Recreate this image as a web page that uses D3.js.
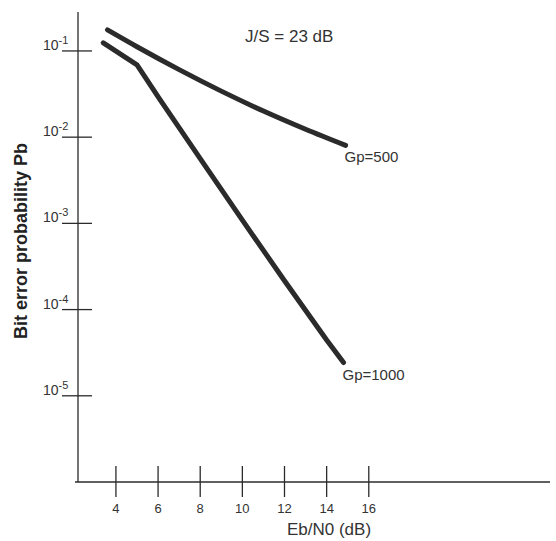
<!DOCTYPE html>
<html>
<head>
<meta charset="utf-8">
<script src="https://cdn.jsdelivr.net/npm/d3@7"></script>
<style>
  html, body { margin: 0; padding: 0; background: #fff; }
  svg { display: block; font-family: "Liberation Sans", Arial, sans-serif; }
</style>
</head>
<body>
<svg id="chart" width="556" height="541"></svg>
<script>
// ---- data ----
const xTicks = [4, 6, 8, 10, 12, 14, 16];
const yTickExps = [-1, -2, -3, -4, -5];
const gp500X = [3.6, 5, 7, 9, 11, 13, 14.9];
const gp500Y = [0.1754, 0.1119, 0.0607, 0.0342, 0.0201, 0.01236, 0.00804];
const gp1000X = [3.4, 5.0, 6.1, 8, 10, 12, 14, 14.8];
const gp1000Y = [0.124, 0.0689, 0.0271, 5.64e-3, 1.09e-3, 2.16e-4, 4.43e-5, 2.43e-5];
const seriesLabels = ["Gp=500", "Gp=1000"];
const annotation = "J/S = 23 dB";
const xTitle = "Eb/N0 (dB)";
const yTitle = "Bit error probability Pb";

// ---- layout ----
const svg = d3.select("#chart");
const ink = "#2b2b2b";
const x = d3.scaleLinear().domain([2.2, 24.6]).range([78, 550]);
const y = d3.scaleLog().domain([1e-6, 0.283]).range([482, 12]);

// axes lines
svg.append("line").attr("x1", x(2.2)).attr("x2", x(2.2)).attr("y1", y(0.283)).attr("y2", y(1e-6))
  .attr("stroke", ink).attr("stroke-width", 1.3);
svg.append("line").attr("x1", x(2.2) - 3).attr("x2", x(24.6)).attr("y1", y(1e-6)).attr("y2", y(1e-6))
  .attr("stroke", ink).attr("stroke-width", 1.3);

// y ticks
const yt = svg.append("g");
yTickExps.forEach(e => {
  const v = Math.pow(10, e);
  yt.append("line").attr("x1", x(2.2) - 16).attr("x2", x(2.2) + 14)
    .attr("y1", y(v)).attr("y2", y(v)).attr("stroke", ink).attr("stroke-width", 1.3);
  const t = yt.append("text").attr("x", 43).attr("y", y(v) - 1)
    .attr("font-size", 14).attr("fill", "#333");
  t.append("tspan").text("10");
  t.append("tspan").attr("dy", -6).attr("font-size", 11).text("-" + Math.abs(e));
});

// x ticks
const xt = svg.append("g");
xTicks.forEach(v => {
  xt.append("line").attr("x1", x(v)).attr("x2", x(v))
    .attr("y1", y(1e-6) - 16).attr("y2", y(1e-6) + 15)
    .attr("stroke", ink).attr("stroke-width", 1.3);
  xt.append("text").attr("x", x(v)).attr("y", 513).attr("text-anchor", "middle")
    .attr("font-size", 13).attr("fill", "#333").text(v);
});

// curves
const smooth = d3.line().x(d => x(d[0])).y(d => y(d[1])).curve(d3.curveMonotoneX);
const straight = d3.line().x(d => x(d[0])).y(d => y(d[1]));
const s500 = gp500X.map((v, i) => [v, gp500Y[i]]);
const s1000 = gp1000X.map((v, i) => [v, gp1000Y[i]]);
[[s500, smooth], [s1000, straight]].forEach(([s, gen]) => {
  svg.append("path").attr("d", gen(s)).attr("fill", "none")
    .attr("stroke", ink).attr("stroke-width", 5).attr("stroke-linecap", "round")
    .attr("stroke-linejoin", "round");
});

// series labels
svg.append("text").attr("x", x(gp500X[gp500X.length - 1]) - 1).attr("y", y(gp500Y[gp500Y.length - 1]) + 17)
  .attr("font-size", 15).attr("fill", "#333").text(seriesLabels[0]);
svg.append("text").attr("x", x(gp1000X[gp1000X.length - 1]) - 1).attr("y", y(gp1000Y[gp1000Y.length - 1]) + 17)
  .attr("font-size", 15).attr("fill", "#333").text(seriesLabels[1]);

// annotation
svg.append("text").attr("x", 245).attr("y", 42).attr("font-size", 17).attr("fill", "#333")
  .text(annotation);

// titles
svg.append("text").attr("x", 329).attr("y", 535).attr("text-anchor", "middle")
  .attr("font-size", 17).attr("fill", "#333").text(xTitle);
svg.append("text").attr("transform", "translate(27,241) rotate(-90)").attr("text-anchor", "middle")
  .attr("font-size", 18).attr("font-weight", "bold").attr("fill", "#222").text(yTitle);
</script>
</body>
</html>
